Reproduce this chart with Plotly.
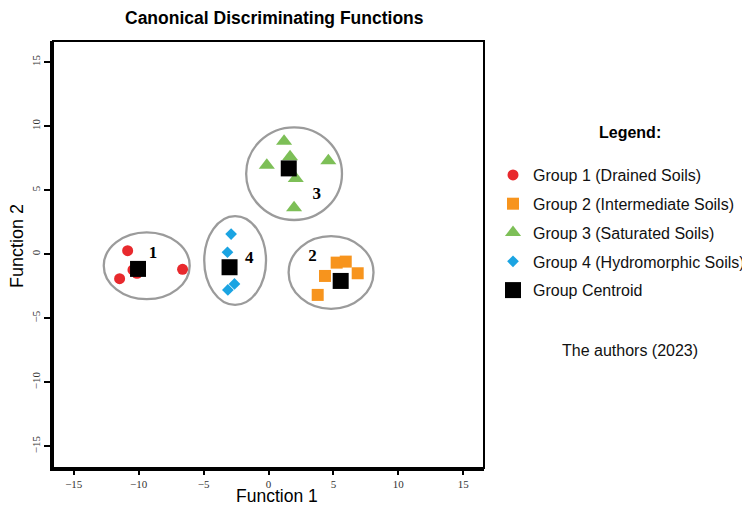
import plotly.graph_objects as go

# ---- data ----
g1_x = [-10.85, -11.47, -10.44, -10.13, -6.62]
g1_y = [0.27, -1.91, -1.23, -1.49, -1.18]
g2_x = [5.25, 5.95, 4.35, 6.87, 3.79]
g2_y = [-0.66, -0.58, -1.70, -1.49, -3.18]
g3_x = [1.20, -0.13, 1.66, 4.61, 2.10, 1.97]
g3_y = [8.82, 6.95, 7.60, 7.29, 5.92, 3.62]
g4_x = [-2.88, -3.16, -3.13, -2.62]
g4_y = [1.57, 0.15, -2.79, -2.32]
centroid_x = [-10.05, 5.56, 1.56, -3.00]
centroid_y = [-1.15, -2.09, 6.70, -1.02]

group_names = ["Group 1 (Drained Soils)", "Group 2 (Intermediate Soils)",
               "Group 3 (Saturated Soils)", "Group 4 (Hydromorphic Soils)"]
centroid_name = "Group Centroid"

# cluster labels
label_text = ["1", "2", "3", "4"]
label_x = [-8.9, 3.38, 3.72, -1.49]
label_y = [0.07, -0.19, 4.67, -0.32]

# cluster ellipses: centre and semi-axes
ell_cx = [-9.38, 4.82, 1.97, -2.57]
ell_cy = [-0.90, -1.43, 6.29, -0.49]
ell_rx = [3.31, 3.27, 3.69, 2.38]
ell_ry = [2.61, 2.84, 3.62, 3.47]

tick_vals = [-15, -10, -5, 0, 5, 10, 15]
axis_range = [-16.6, 16.6]
y_range = [-16.7, 16.65]

# ---- styles ----
colors = ["#e8292d", "#f7941d", "#7dbf57", "#1ba4e2"]
symbols = ["circle", "square", "triangle-up", "diamond"]
sizes = [11, 12, 14, 9]
SANS = "Liberation Sans, Arial, sans-serif"
SERIF = "Liberation Serif, Times New Roman, serif"

# page offset (browser body margin)
OFF = 8
# plot area in page pixels
PL, PR, PT, PB = 53, 484, 41, 468
PW, PH = PR - PL, PB - PT


def px(x):
    return (x - PL) / PW


def py(y):
    return (PB - y) / PH


fig = go.Figure()

groups = [(g1_x, g1_y), (g2_x, g2_y), (g3_x, g3_y), (g4_x, g4_y)]
for i, (gx, gy) in enumerate(groups):
    fig.add_trace(go.Scatter(
        x=gx, y=gy, mode="markers", name=group_names[i],
        legendgroup=f"g{i}",
        marker=dict(color=colors[i], symbol=symbols[i], size=sizes[i], line=dict(width=0)),
    ))

fig.add_trace(go.Scatter(
    x=centroid_x, y=centroid_y, mode="markers", name=centroid_name,
    legendgroup="c",
    marker=dict(color="black", symbol="square", size=16, line=dict(width=0)),
))

fig.add_trace(go.Scatter(
    x=label_x, y=label_y, mode="text", text=label_text, showlegend=False,
    textfont=dict(family=SERIF, size=17, color="black"),
    texttemplate="<b>%{text}</b>", hoverinfo="skip",
))

for cx, cy, rx, ry in zip(ell_cx, ell_cy, ell_rx, ell_ry):
    fig.add_shape(type="circle", xref="x", yref="y",
                  x0=cx - rx, x1=cx + rx, y0=cy - ry, y1=cy + ry,
                  line=dict(color="#9b9b9b", width=2.3), layer="below")

# frame (top/right thinner)
fig.add_shape(type="rect", xref="paper", yref="paper", x0=0, x1=1, y0=0, y1=1,
              line=dict(color="black", width=2), layer="above")

fig.update_xaxes(range=axis_range, tickvals=tick_vals, ticks="outside", ticklen=4,
                 tickwidth=1.5, tickcolor="black", showline=True, linewidth=3,
                 linecolor="black", showgrid=False, zeroline=False,
                 tickfont=dict(family=SERIF, size=11, color="#333333"))
fig.update_yaxes(range=y_range, tickvals=tick_vals, ticks="outside", ticklen=6,
                 tickwidth=1.5, tickcolor="black", showline=True, linewidth=3,
                 linecolor="black", showgrid=False, zeroline=False, tickangle=-90,
                 tickfont=dict(family=SERIF, size=11, color="#333333"))

common = dict(xref="paper", yref="paper", showarrow=False, xanchor="center", yanchor="middle")
fig.add_annotation(text="<b>Canonical Discriminating Functions</b>", x=px(274), y=py(18),
                   font=dict(family=SANS, size=17.5, color="black"), **common)
fig.add_annotation(text="Function 1", x=px(277), y=py(496), borderpad=0,
                   font=dict(family=SANS, size=17.5, color="black"), **common)
fig.add_annotation(text="Function 2", textangle=-90, x=px(17), y=py(246),
                   font=dict(family=SANS, size=18, color="black"), **common)
fig.add_annotation(text="<b>Legend:</b>", x=px(630), y=py(132),
                   font=dict(family=SANS, size=16, color="black"), **common)
fig.add_annotation(text="The authors (2023)", x=px(630), y=py(350),
                   font=dict(family=SANS, size=16, color="#111111"), **common)

fig.update_layout(
    width=750 - OFF, height=507 - OFF,
    margin=dict(l=PL - OFF, r=750 - PR, t=PT - OFF, b=507 - PB, autoexpand=False),
    plot_bgcolor="white", paper_bgcolor="white",
    showlegend=True,
    legend=dict(x=px(493), xanchor="left", y=py(158), yanchor="top",
                font=dict(family=SANS, size=16, color="#111111"),
                tracegroupgap=5, itemsizing="trace", bgcolor="rgba(0,0,0,0)"),
)

fig.write_html("out.html")
